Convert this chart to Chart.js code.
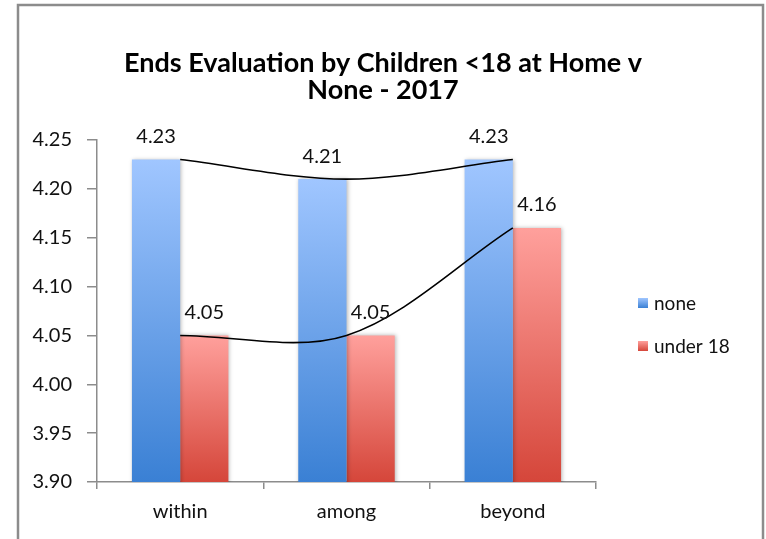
<!DOCTYPE html>
<html lang="en">
<head>
  <meta charset="UTF-8">
  <title>Ends Evaluation by Children &lt;18 at Home v None - 2017</title>
  <script src="https://cdn.jsdelivr.net/npm/chart.js"></script>
  <style>
    html, body {
      margin: 0;
      padding: 0;
      background: #fff;
    }
    #wrap {
      width: 766px;
      height: 539px;
    }
  </style>
</head>
<body>
  <div id="wrap"><canvas id="myChart" width="766" height="539"></canvas></div>

  <script>
    // chart data
    const categories = ['within', 'among', 'beyond'];
    const noneValues = [4.23, 4.21, 4.23];
    const under18Values = [4.05, 4.05, 4.16];
    const seriesNames = ['none', 'under 18'];
    const yMin = 3.90;
    const yMax = 4.25;
    const yStep = 0.05;

    const FONT = 'Lato, "Open Sans", sans-serif';
    const blueStops = ['#a0c6ff', '#3a80d4'];
    const redStops = ['#ffa09c', '#d5463a'];

    // light at the top of each bar, darker toward the axis
    function barFill(stops) {
      return function (context) {
        const chart = context.chart;
        const area = chart.chartArea;
        if (!area || context.raw === undefined) return stops[0];
        const top = chart.scales.y.getPixelForValue(context.raw);
        const g = chart.ctx.createLinearGradient(0, top, 0, area.bottom);
        g.addColorStop(0, stops[0]);
        g.addColorStop(1, stops[1]);
        return g;
      };
    }

    // white page with the grey frame round the chart
    const framePlugin = {
      id: 'frame',
      beforeDraw(chart) {
        const c = chart.ctx;
        c.save();
        c.fillStyle = '#fff';
        c.fillRect(0, 0, chart.width, chart.height);
        c.strokeStyle = '#8c8c8c';
        c.lineWidth = 2.5;
        c.strokeRect(18, 5, 745, 600);
        c.restore();
      }
    };

    // soft shadow under the bars only
    const shadowPlugin = {
      id: 'barShadow',
      beforeDatasetDraw(chart, args) {
        if (args.meta.type !== 'bar') return;
        const c = chart.ctx;
        c.save();
        c.shadowColor = 'rgba(0,0,0,0.28)';
        c.shadowBlur = 4;
        c.shadowOffsetX = 1;
        c.shadowOffsetY = 0;
      },
      afterDatasetDraw(chart, args) {
        if (args.meta.type !== 'bar') return;
        chart.ctx.restore();
      }
    };

    // value above each bar
    const valueLabels = {
      id: 'valueLabels',
      afterDatasetsDraw(chart) {
        const c = chart.ctx;
        c.save();
        c.font = '20px ' + FONT;
        c.fillStyle = '#111';
        c.textAlign = 'center';
        c.textBaseline = 'middle';
        chart.data.datasets.forEach((ds, i) => {
          const meta = chart.getDatasetMeta(i);
          if (meta.type !== 'bar') return;
          meta.data.forEach((bar, j) => {
            c.fillText(ds.data[j].toFixed(2), bar.x, bar.y - 23);
          });
        });
        c.restore();
      }
    };

    // legend on the right, one row per bar series
    const sideLegend = {
      id: 'sideLegend',
      afterDraw(chart) {
        const c = chart.ctx;
        const x = 638, y0 = 303, gap = 43, box = 10;
        c.save();
        c.font = '19px ' + FONT;
        c.textBaseline = 'middle';
        [blueStops, redStops].forEach((stops, i) => {
          const y = y0 + i * gap;
          const g = c.createLinearGradient(0, y - box / 2, 0, y + box / 2);
          g.addColorStop(0, stops[0]);
          g.addColorStop(1, stops[1]);
          c.fillStyle = g;
          c.fillRect(x, y - box / 2, box, box);
          c.fillStyle = '#111';
          c.fillText(seriesNames[i], x + 16, y + 1);
        });
        c.restore();
      }
    };

    new Chart(document.getElementById('myChart'), {
      type: 'bar',
      data: {
        labels: categories,
        datasets: [
          {
            label: seriesNames[0],
            data: noneValues,
            backgroundColor: barFill(blueStops),
            categoryPercentage: 0.58,
            barPercentage: 1.0,
            order: 2
          },
          {
            label: seriesNames[1],
            data: under18Values,
            backgroundColor: barFill(redStops),
            categoryPercentage: 0.58,
            barPercentage: 1.0,
            order: 2
          },
          // trend curves through each series
          {
            type: 'line',
            label: 'none trend',
            data: noneValues,
            borderColor: '#000',
            borderWidth: 1.6,
            pointRadius: 0,
            tension: 0.33,
            fill: false,
            order: 1
          },
          {
            type: 'line',
            label: 'under 18 trend',
            data: under18Values,
            borderColor: '#000',
            borderWidth: 1.6,
            pointRadius: 0,
            tension: 0.33,
            fill: false,
            order: 1
          }
        ]
      },
      options: {
        responsive: false,
        animation: false,
        layout: {
          padding: 0
        },
        plugins: {
          legend: { display: false },
          tooltip: { enabled: false },
          title: {
            display: true,
            text: ['Ends Evaluation by Children <18 at Home v', 'None - 2017'],
            color: '#000',
            font: { family: FONT, size: 27, weight: 'bold', lineHeight: '27px' },
            padding: { top: 50, bottom: 36 }
          }
        },
        scales: {
          x: {
            grid: {
              offset: true,
              drawOnChartArea: false,
              drawTicks: true,
              tickLength: 7,
              color: '#8c8c8c',
              lineWidth: 1.5
            },
            border: { display: true, color: '#8c8c8c', width: 1.5 },
            ticks: {
              color: '#111',
              font: { family: FONT, size: 20 },
              padding: 11
            },
            afterFit(scale) { scale.height = 57; }
          },
          y: {
            min: yMin,
            max: yMax,
            grid: {
              drawOnChartArea: false,
              drawTicks: true,
              tickLength: 10,
              color: '#8c8c8c',
              lineWidth: 1.5
            },
            border: { display: true, color: '#8c8c8c', width: 1.5 },
            ticks: {
              stepSize: yStep,
              color: '#111',
              font: { family: FONT, size: 20 },
              padding: 15,
              callback: v => Number(v).toFixed(2)
            },
            afterFit(scale) { scale.width = 97; }
          },
          // empty right-hand box that leaves room for the legend
          legendSpace: {
            type: 'linear',
            position: 'right',
            min: 0,
            max: 1,
            grid: { display: false },
            border: { display: false },
            ticks: { display: false },
            afterFit(scale) { scale.width = 170; }
          }
        }
      },
      plugins: [framePlugin, shadowPlugin, valueLabels, sideLegend]
    });
  </script>
</body>
</html>
